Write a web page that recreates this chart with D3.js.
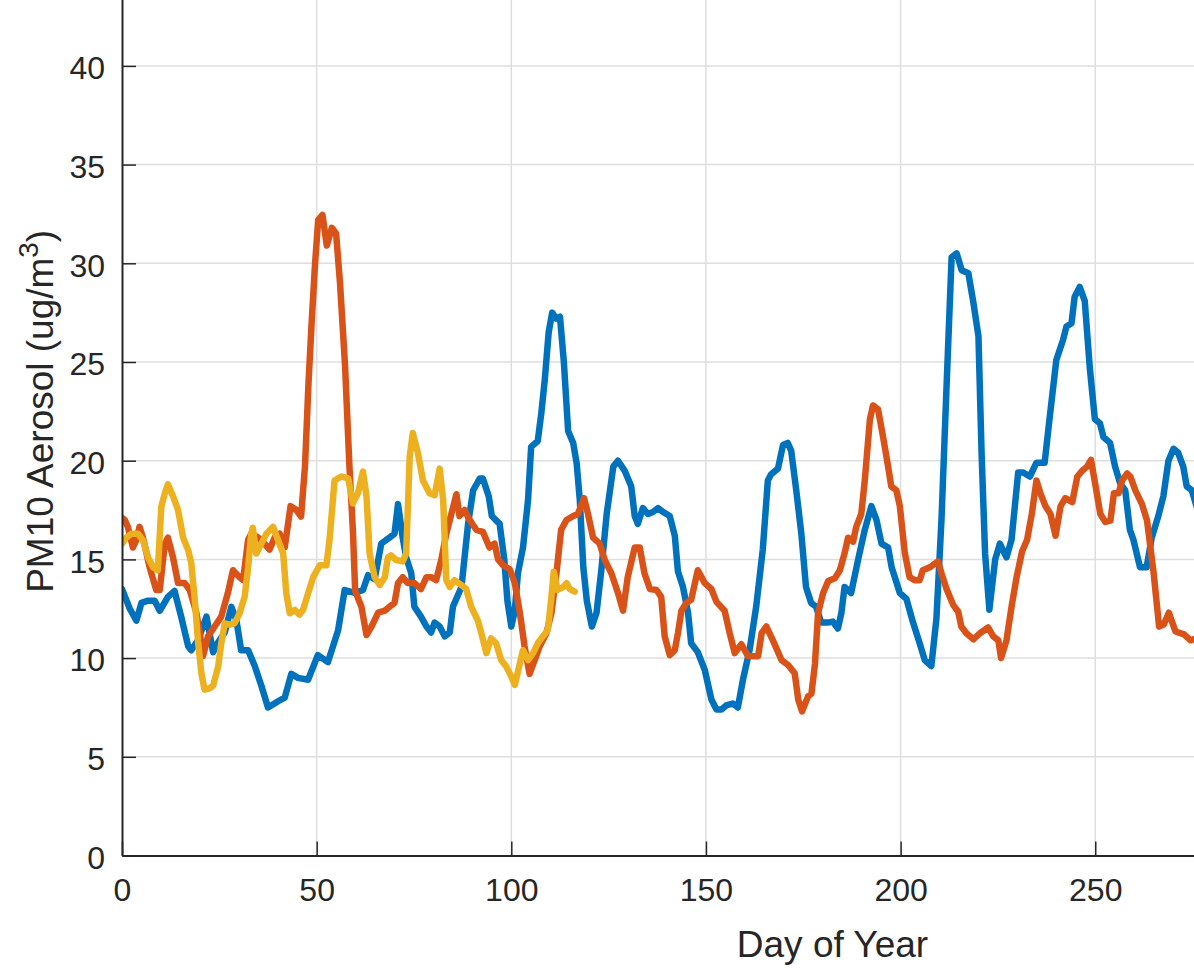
<!DOCTYPE html>
<html>
<head>
<meta charset="utf-8">
<script src="https://cdn.jsdelivr.net/npm/d3@7"></script>
<style>
  html, body { margin: 0; padding: 0; background: #fff; }
  svg { display: block; }
  text { font-family: "Liberation Sans", Arial, Helvetica, sans-serif; fill: #262626; }
</style>
</head>
<body>
<svg id="chart" width="1194" height="976"></svg>
<script>
// ---- Data ----
const xTicks = [0, 50, 100, 150, 200, 250];
const yTicks = [0, 5, 10, 15, 20, 25, 30, 35, 40];
const xLabel = "Day of Year";
const yLabelMain = "PM10 Aerosol (ug/m";
const yLabelSup = "3";
const yLabelEnd = ")";
const seriesColors = ["#0072BD", "#D95319", "#EDB120"];

const blueDays = [0,1,2,3.7,5,6.5,8.4,9.7,11.8,13.5,15.2,17,17.8,19.5,21.7,23.4,24.7,26.4,28.1,29.4,30.6,32.4,34.1,35.8,37.5,40,41.8,43.5,45.2,47.8,50.3,52.9,55.5,57.2,59.8,61.9,63.2,64.9,66.6,68.7,70,70.9,72.1,73,74.3,75.1,76.8,78.2,79.4,80.3,81.6,82.9,84.2,85,87.2,88.9,90.2,91.9,92.7,94.2,95,97,98.2,99,100,100.9,101.7,103,104.3,105.1,106.8,107.7,108.6,109.6,110.5,111.5,112.5,113.5,114.6,115.9,116.8,117.6,118.5,119.4,120.7,121.9,123.2,124.5,126.2,127.4,129.1,130.8,131.7,132.5,133.8,135.1,136.4,137.7,139,140.7,142,142.8,144.1,145.4,146.2,147.9,149.7,151.4,152.7,154,155.2,156.9,158.2,159.5,161.2,162.9,164.6,165.9,166.7,168.5,169.8,171,171.9,173.2,174.5,175.7,177,178.3,179.6,181.3,182.6,183.9,184.8,185.6,187.3,189.1,190.8,192.5,193.8,195.1,196.8,197.7,199.8,201.5,203.2,204.9,206.2,207.9,209.2,210.5,211.8,213.1,214.4,215.7,217.4,218.7,220,220.8,221.7,222.8,224.3,225.5,227.2,228.5,230.2,231.5,233.2,234.9,237,238.3,240,241.7,242.6,243.9,244.7,246,247.3,248.6,249.9,251.2,252.1,253.8,255.1,256.4,257.7,258.9,259.8,261.5,263.2,264.5,266.2,267.5,268.8,270.1,271.3,272.6,273.5,274.8,276];
const blueValues = [13.5,13.0,12.5,11.9,12.8,12.9,12.9,12.4,13.1,13.4,12.1,10.6,10.4,10.9,12.1,10.3,10.8,11.3,12.6,11.9,10.4,10.4,9.6,8.6,7.5,7.8,8.0,9.2,9.0,8.9,10.15,9.8,11.4,13.45,13.3,13.45,14.2,14.0,15.8,16.1,16.3,17.8,16.1,15.1,14.3,12.6,12.1,11.6,11.3,11.8,11.6,11.1,11.3,12.6,13.6,16.8,18.5,19.1,19.1,18.2,17.2,16.8,15.0,12.9,11.6,12.4,14.3,15.6,18.0,20.7,21.0,22.4,24.1,26.5,27.5,27.2,27.3,25.0,21.5,20.9,19.85,18.0,14.6,12.9,11.6,12.3,14.6,17.3,19.7,20.0,19.5,18.7,17.2,16.8,17.6,17.3,17.4,17.6,17.4,17.2,16.2,14.4,13.6,12.3,10.75,10.3,9.4,7.9,7.4,7.4,7.6,7.7,7.5,8.9,10.4,12.6,15.5,19.0,19.3,19.6,20.8,20.9,20.5,18.5,16.3,13.6,12.8,12.6,11.8,11.8,11.85,11.5,12.3,13.6,13.3,15.0,16.5,17.7,17.0,15.8,15.6,14.6,13.3,13.0,11.8,10.75,9.9,9.6,12.0,17.0,23.75,30.3,30.5,29.65,29.5,28.0,26.3,20.4,15.3,12.45,15.0,15.8,15.1,16.0,19.4,19.4,19.2,19.9,19.9,22.2,25.1,26.1,26.8,26.96,28.3,28.8,28.1,24.7,22.1,21.9,21.2,20.9,19.7,18.85,18.5,16.5,16.0,14.6,14.6,16.1,17.2,18.2,20.0,20.6,20.4,19.7,18.7,18.5,17.7];

const redDays = [0,0.7,1.5,2.8,3.7,4.5,5.4,7.1,8.8,9.7,11,11.8,13.1,14.4,16.1,17.4,19.1,20,20.8,22.1,23.8,25.5,27.2,28.5,30.2,31.1,32.4,33.2,35,36.6,37.9,39.2,40.5,41.8,43.3,44.8,46,47,47.9,48.7,49.6,50.4,51.5,52.6,53.9,55,56,57.3,58.4,59.3,59.9,61.5,62.8,64.1,65.8,67.5,68.7,70,70.9,72.1,73.4,75.1,76.8,78.2,79.4,80.7,82,83.3,84.6,85.9,86.7,88,89.3,91,92.7,94.4,95.7,96.6,97.9,99.6,100.9,102.2,103.4,104.7,106,107.3,109,110.3,111.6,112.8,114.2,115.9,117.1,118.7,119.7,121,122.7,124,125.7,127.4,128.7,129.9,131.7,133,134.2,135.6,137.3,138.5,139.4,140.7,142,142.8,143.7,145,146.2,147.9,149.7,151.4,152.7,154.8,156.1,157.4,159.1,160.8,163.4,164.3,165.5,167.2,169.4,171.1,172.8,173.7,174.7,176.2,177.1,178,178.8,180.1,181.4,183.1,184.4,185.6,186.5,187.8,188.6,189.9,190.8,192.1,192.9,194.2,195.5,196.8,197.6,198.9,199.8,201.1,202.3,203.6,204.9,205.7,207.5,209.6,210.5,211.8,213.5,214.8,215.6,216.9,218.7,220.4,222.5,223.8,225.1,225.8,227.2,228.5,229.8,231.2,232.5,233.7,234.9,235.9,237.2,238.5,239.8,241.1,242.3,244.1,245.4,246.7,247.9,248.9,250.1,251.3,252.6,253.9,254.8,256,256.9,258.2,259,260.3,262,263.3,265,266.4,267.6,268.9,270.6,272.8,274.5,276];
const redValues = [17.1,17.0,16.65,15.6,16.0,16.65,16.1,14.6,13.45,13.45,15.8,16.1,15.1,13.8,13.8,13.45,12.3,11.26,10.1,11.1,11.6,12.1,13.3,14.45,14.1,13.95,16.0,16.3,16.1,15.8,15.5,16.1,16.3,15.6,17.7,17.5,17.17,19.7,23.9,26.95,30.0,32.2,32.45,30.9,31.8,31.5,29.0,24.8,19.8,16.5,13.4,12.6,11.17,11.6,12.3,12.4,12.6,12.8,13.8,14.1,13.8,13.8,13.5,14.1,14.1,13.95,14.97,16.3,17.3,18.3,17.2,17.5,17.0,16.5,16.4,15.6,15.8,15.0,14.7,14.5,13.8,12.3,10.6,9.2,9.9,10.6,11.26,12.27,14.3,16.5,17.0,17.2,17.3,18.1,17.3,16.1,15.8,14.97,14.3,13.3,12.4,14.1,15.6,15.6,14.3,13.5,13.45,13.1,11.1,10.15,10.4,11.26,12.4,12.8,12.95,14.45,13.8,13.5,12.85,12.4,11.26,10.25,10.7,10.1,10.1,11.26,11.6,10.9,9.9,9.65,9.23,7.9,7.3,8.05,8.2,9.7,12.27,13.3,13.9,14.04,14.45,15.3,16.1,15.9,16.65,17.3,19.0,22.06,22.8,22.6,21.2,19.7,18.7,18.5,17.7,15.3,14.1,13.95,13.95,14.45,14.6,14.9,14.3,13.5,12.7,12.35,11.6,11.26,10.95,11.26,11.55,11.1,10.9,10.0,10.9,12.6,14.1,15.4,16.0,17.3,19.0,18.35,17.7,17.3,16.2,17.7,18.1,17.9,19.2,19.5,19.7,20.04,18.7,17.3,16.9,16.97,18.35,18.35,19.0,19.35,19.2,18.5,17.8,16.97,14.3,11.6,11.7,12.3,11.35,11.2,10.9,11.0];

const yellowDays = [0,1.1,2.4,4.1,5.4,6.7,8,9.2,10.1,11,11.8,13.1,14.4,15.7,17,17.8,18.7,19.5,20.4,21.2,22.5,23.4,24.7,25.5,26.4,27.7,28.9,30.2,31.5,32.4,33.2,33.6,34.5,35.8,37.1,38.8,40.1,41.4,42.2,43.1,44.4,45.6,46.5,47.8,49.1,50.8,52.5,53.3,54.6,56.3,58.1,59.3,60.6,61.9,62.8,63.6,64.9,66.2,67.5,68.3,69.1,70.4,72.1,73,73.9,74.7,76,77.3,79,80.3,81.6,82.5,83.3,84.2,85.4,87.2,88.4,89.7,91.4,92.3,93.6,94.8,96.1,97.4,98.7,100,100.9,102.2,103,104.3,105.6,106.8,108.1,109.4,110.3,110.9,111.9,113.3,114.2,115,116.3];
const yellowValues = [15.8,16.1,16.3,16.3,15.97,15.1,14.6,14.45,17.67,18.35,18.8,18.2,17.5,16.1,15.47,14.8,12.95,10.9,9.23,8.4,8.47,8.6,9.57,10.75,11.76,11.7,11.76,12.27,13.1,14.6,16.3,16.6,15.3,15.8,16.3,16.65,15.97,15.3,13.28,12.27,12.44,12.2,12.44,13.28,14.1,14.7,14.7,15.97,19.0,19.2,19.1,17.84,18.35,19.45,18.2,15.3,14.1,13.7,14.1,15.1,15.2,14.97,14.9,15.3,20.2,21.4,20.4,19.0,18.35,18.25,19.6,18.0,13.95,13.6,13.95,13.7,13.5,12.6,11.9,11.26,10.25,11.0,10.75,9.9,9.57,9.06,8.64,9.73,10.4,9.9,10.25,10.75,11.1,11.43,13.1,14.38,13.45,13.6,13.8,13.5,13.37];

// ---- Layout ----
const W = 1194, H = 976;
const plotLeft = 122, plotBottom = 855.5;
const xDomain = [0, 365], yDomain = [0, 45];
const pxPerDay = 3.893, pxPerUnit = 19.74;

const x = d3.scaleLinear().domain(xDomain).range([plotLeft, plotLeft + xDomain[1] * pxPerDay]);
const y = d3.scaleLinear().domain(yDomain).range([plotBottom, plotBottom - yDomain[1] * pxPerUnit]);

const svg = d3.select("#chart");
svg.append("rect").attr("width", W).attr("height", H).attr("fill", "#fff");

// Grid
const grid = svg.append("g").attr("stroke", "#dedede").attr("stroke-width", 1.5);
grid.selectAll("line.gx").data(xTicks.filter(d => d > 0)).join("line")
  .attr("x1", d => x(d)).attr("x2", d => x(d))
  .attr("y1", y(yDomain[0])).attr("y2", y(yDomain[1]));
grid.selectAll("line.gy").data(yTicks.filter(d => d > 0)).join("line")
  .attr("x1", x(xDomain[0])).attr("x2", x(xDomain[1]))
  .attr("y1", d => y(d)).attr("y2", d => y(d));

// Clip
svg.append("clipPath").attr("id", "clip").append("rect")
  .attr("x", plotLeft).attr("y", y(yDomain[1]))
  .attr("width", x(xDomain[1]) - plotLeft).attr("height", plotBottom - y(yDomain[1]));

// Lines
const series = [
  { days: blueDays, values: blueValues },
  { days: redDays, values: redValues },
  { days: yellowDays, values: yellowValues }
];
const line = d3.line().x(d => x(d[0])).y(d => y(d[1])).curve(d3.curveLinear);
const lines = svg.append("g").attr("clip-path", "url(#clip)");
series.forEach((s, i) => {
  const pts = s.days.map((d, j) => [d, s.values[j]]);
  lines.append("path").datum(pts)
    .attr("d", line)
    .attr("fill", "none")
    .attr("stroke", seriesColors[i])
    .attr("stroke-width", 6.5)
    .attr("stroke-linejoin", "round")
    .attr("stroke-linecap", "round");
});

// Axes
const fontSize = 32;
const xAxis = d3.axisBottom(x).tickValues(xTicks).tickSizeInner(-14).tickSizeOuter(0).tickPadding(26).tickFormat(d3.format("d"));
const gx = svg.append("g").attr("transform", `translate(0,${plotBottom})`).call(xAxis);
gx.select(".domain").attr("stroke", "#262626").attr("stroke-width", 2);
gx.selectAll(".tick line").attr("stroke", "#262626").attr("stroke-width", 1.5);
gx.selectAll(".tick text").attr("font-size", fontSize).attr("fill", "#262626").attr("dy", "0.62em")
  .style("font-family", '"Liberation Sans", Arial, Helvetica, sans-serif');

const yAxis = d3.axisLeft(y).tickValues(yTicks).tickSizeInner(-14).tickSizeOuter(0).tickPadding(17).tickFormat(d3.format("d"));
const gy = svg.append("g").attr("transform", `translate(${plotLeft},0)`).call(yAxis);
gy.select(".domain").attr("stroke", "#262626").attr("stroke-width", 2);
gy.selectAll(".tick line").attr("stroke", "#262626").attr("stroke-width", 1.5);
gy.selectAll(".tick text").attr("font-size", fontSize).attr("fill", "#262626").attr("dy", "0.4em")
  .style("font-family", '"Liberation Sans", Arial, Helvetica, sans-serif');

// Axis labels
const labelSize = 37;
svg.append("text")
  .attr("x", (x(xDomain[0]) + x(xDomain[1])) / 2)
  .attr("y", 957)
  .attr("text-anchor", "middle")
  .attr("font-size", labelSize)
  .text(xLabel);

const yMid = (y(yDomain[0]) + y(yDomain[1])) / 2;
const yl = svg.append("text")
  .attr("transform", `translate(53,${yMid}) rotate(-90)`)
  .attr("text-anchor", "middle")
  .attr("font-size", labelSize);
yl.append("tspan").text(yLabelMain);
yl.append("tspan").attr("dy", -15).attr("font-size", labelSize * 0.75).text(yLabelSup);
yl.append("tspan").attr("dy", 15).text(yLabelEnd);
</script>
</body>
</html>
